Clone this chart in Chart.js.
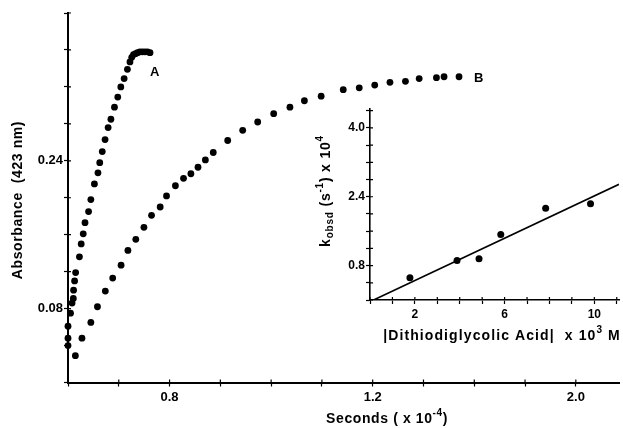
<!DOCTYPE html>
<html>
<head>
<meta charset="utf-8">
<script src="https://cdn.jsdelivr.net/npm/chart.js@4"></script>
<style>
  html, body { margin: 0; padding: 0; background: #fff; }
  #wrap { position: relative; width: 623px; height: 428px; }
  #mainChart { position: absolute; left: 0; top: 0; }
  #insetChart { position: absolute; left: 300px; top: 100px; }
</style>
</head>
<body>
<div id="wrap">
  <canvas id="mainChart" width="623" height="428"></canvas>
  <canvas id="insetChart" width="323" height="250"></canvas>
</div>
<script>
// Curve A: fast run (time in 10^4 s, absorbance at 423 nm)
const timeA = [0, 0, 0, 0.010, 0.016, 0.021, 0.022, 0.026, 0.030, 0.045, 0.052, 0.060,
  0.067, 0.081, 0.090, 0.104, 0.118, 0.125, 0.135, 0.146, 0.158, 0.169, 0.183, 0.196,
  0.208, 0.221, 0.234, 0.244, 0.251, 0.258, 0.266, 0.274, 0.283, 0.293, 0.303, 0.313, 0.323];
const absA = [0.040, 0.048, 0.061, 0.075, 0.086, 0.091, 0.100, 0.110, 0.119, 0.136, 0.150, 0.161,
  0.173, 0.185, 0.198, 0.215, 0.227, 0.238, 0.250, 0.263, 0.276, 0.285, 0.298, 0.309,
  0.320, 0.329, 0.339, 0.347, 0.352, 0.355, 0.356, 0.357, 0.358, 0.358, 0.358, 0.358, 0.357];

// Curve B: slow run
const timeB = [0.029, 0.055, 0.090, 0.116, 0.147, 0.176, 0.209, 0.236, 0.267, 0.299, 0.329, 0.363,
  0.388, 0.423, 0.455, 0.484, 0.512, 0.541, 0.572, 0.629, 0.688, 0.747, 0.810, 0.874,
  0.931, 0.997, 1.084, 1.147, 1.208, 1.268, 1.329, 1.383, 1.451, 1.481, 1.540];
const absB = [0.029, 0.048, 0.065, 0.082, 0.099, 0.113, 0.127, 0.143, 0.155, 0.168, 0.181, 0.190,
  0.202, 0.213, 0.221, 0.226, 0.233, 0.241, 0.249, 0.262, 0.273, 0.282, 0.291, 0.298,
  0.305, 0.310, 0.317, 0.319, 0.322, 0.325, 0.326, 0.329, 0.330, 0.331, 0.331];

// Inset: k_obsd vs acid concentration, with the drawn fit line
const acidConc = [1.78, 3.88, 4.86, 5.83, 7.83, 9.83];
const kObsd = [0.52, 0.92, 0.96, 1.52, 2.13, 2.24];
const fitConc = [0.16, 11.1];
const fitK = [0, 2.69];

// Tick labels as printed on the axes
const mainXLabelAt = [0.4, 1.2, 2.0];
const mainXLabelText = ['0.8', '1.2', '2.0'];
const mainYLabels = [0.08, 0.24];
const insetXLabels = [2, 6, 10];
const insetYLabels = [0.8, 2.4, 4.0];

const FONT = '"Liberation Sans", Arial, sans-serif';
const near = (a, b) => Math.abs(a - b) < 1e-6;
const pts = (xs, ys) => xs.map((x, i) => ({ x: x, y: ys[i] }));

// text with super/subscript pieces, centred on (x, y)
function drawRich(ctx, parts, x, y, size, rotate, spacing) {
  ctx.save();
  ctx.translate(x, y);
  if (rotate) ctx.rotate(-Math.PI / 2);
  ctx.letterSpacing = (spacing || 0.6) + 'px';
  const fontOf = p => 'bold ' + (p.sup || p.sub ? Math.round(size * 0.72) : size) + 'px ' + FONT;
  let total = 0;
  parts.forEach(p => { ctx.font = fontOf(p); total += ctx.measureText(p.t).width; });
  let cx = -total / 2;
  ctx.textBaseline = 'middle';
  ctx.textAlign = 'left';
  ctx.fillStyle = '#000';
  parts.forEach(p => {
    ctx.font = fontOf(p);
    const dy = p.sup ? -size * 0.42 : (p.sub ? size * 0.3 : 0);
    ctx.fillText(p.t, cx, dy);
    cx += ctx.measureText(p.t).width;
  });
  ctx.restore();
}

function axisOpts(extra) {
  return Object.assign({
    type: 'linear',
    border: { display: true, color: '#000', width: 2 },
    grid: { drawOnChartArea: false, drawTicks: true, tickLength: 4, color: '#000', tickWidth: 1.2 }
  }, extra);
}

// tick marks also poke a little into the plot area
const crossTicks = {
  id: 'crossTicks',
  afterDraw(chart) {
    const ctx = chart.ctx;
    const x = chart.scales.x, y = chart.scales.y;
    ctx.save();
    ctx.strokeStyle = '#000';
    ctx.lineWidth = 1.2;
    ctx.beginPath();
    x.ticks.forEach(t => {
      const px = x.getPixelForValue(t.value);
      ctx.moveTo(px, x.top);
      ctx.lineTo(px, x.top - 3);
    });
    y.ticks.forEach(t => {
      const py = y.getPixelForValue(t.value);
      ctx.moveTo(y.right, py);
      ctx.lineTo(y.right + 3, py);
    });
    ctx.stroke();
    ctx.restore();
  }
};

const mainLabels = {
  id: 'mainLabels',
  afterDraw(chart) {
    const ctx = chart.ctx;
    const x = chart.scales.x, y = chart.scales.y;
    drawRich(ctx, [{ t: 'Absorbance  (423 nm)' }], 18, 200, 14, true);
    drawRich(ctx, [{ t: 'Seconds ( x 10' }, { t: '-4', sup: 1 }, { t: ')' }], 387, 419, 14);
    const nA = timeA.length - 1, nB = timeB.length - 1;
    drawRich(ctx, [{ t: 'A' }], x.getPixelForValue(timeA[nA]) + 5, y.getPixelForValue(absA[nA]) + 20, 13);
    drawRich(ctx, [{ t: 'B' }], x.getPixelForValue(timeB[nB]) + 20, y.getPixelForValue(absB[nB]) + 2, 13);
  }
};

new Chart(document.getElementById('mainChart'), {
  type: 'scatter',
  data: {
    datasets: [
      { data: pts(timeA, absA), backgroundColor: '#000', borderWidth: 0, pointRadius: 3.4, clip: false },
      { data: pts(timeB, absB), backgroundColor: '#000', borderWidth: 0, pointRadius: 3.4, clip: false }
    ]
  },
  options: {
    responsive: false,
    animation: false,
    layout: { padding: { left: 0, right: 1, top: 13, bottom: 0 } },
    plugins: { legend: { display: false }, tooltip: { enabled: false } },
    scales: {
      x: axisOpts({
        min: 0, max: 2.17,
        afterFit: s => { s.height = 45.5; },
        ticks: {
          stepSize: 0.2, includeBounds: false, autoSkip: false, maxRotation: 0, padding: 3,
          color: '#000', font: { family: FONT, size: 13, weight: 'bold' },
          callback: v => {
            const i = mainXLabelAt.findIndex(a => near(a, v));
            return i < 0 ? '' : mainXLabelText[i];
          }
        }
      }),
      y: axisOpts({
        min: 0, max: 0.4,
        afterFit: s => { s.width = 68; },
        ticks: {
          stepSize: 0.04, includeBounds: false, autoSkip: false, padding: 1,
          color: '#000', font: { family: FONT, size: 13, weight: 'bold' },
          callback: v => mainYLabels.some(a => near(a, v)) ? v.toFixed(2) : ''
        }
      })
    }
  },
  plugins: [crossTicks, mainLabels]
});

const insetLabels = {
  id: 'insetLabels',
  afterDraw(chart) {
    const ctx = chart.ctx;
    drawRich(ctx, [{ t: '|Dithiodiglycolic Acid|  x 10' }, { t: '3', sup: 1 }, { t: ' M' }], 202, 236, 14, false, 1.1);
    drawRich(ctx, [{ t: 'k' }, { t: 'obsd', sub: 1 }, { t: ' (s' }, { t: '-1', sup: 1 }, { t: ') x 10' }, { t: '4', sup: 1 }],
      26, 91, 14, true, 0.8);
  }
};

new Chart(document.getElementById('insetChart'), {
  type: 'scatter',
  data: {
    datasets: [
      { data: pts(acidConc, kObsd), backgroundColor: '#000', borderWidth: 0, pointRadius: 3.5, clip: false },
      { data: pts(fitConc, fitK), showLine: true, borderColor: '#000', borderWidth: 1.6, pointRadius: 0 }
    ]
  },
  options: {
    responsive: false,
    animation: false,
    layout: { padding: { left: 0, right: 1, top: 9, bottom: 0 } },
    plugins: { legend: { display: false }, tooltip: { enabled: false } },
    scales: {
      x: axisOpts({
        min: 0, max: 11.1,
        border: { display: true, color: '#000', width: 1.6 },
        afterFit: s => { s.height = 50; },
        ticks: {
          stepSize: 1, includeBounds: false, autoSkip: false, maxRotation: 0, padding: 3,
          color: '#000', font: { family: FONT, size: 12, weight: 'bold' },
          callback: v => insetXLabels.some(a => near(a, v)) ? String(v) : ''
        }
      }),
      y: axisOpts({
        min: 0, max: 4.44,
        border: { display: true, color: '#000', width: 1.6 },
        afterFit: s => { s.width = 70; },
        ticks: {
          stepSize: 0.4, includeBounds: false, autoSkip: false, padding: 1,
          color: '#000', font: { family: FONT, size: 12, weight: 'bold' },
          callback: v => insetYLabels.some(a => near(a, v)) ? v.toFixed(1) : ''
        }
      })
    }
  },
  plugins: [crossTicks, insetLabels]
});
</script>
</body>
</html>
